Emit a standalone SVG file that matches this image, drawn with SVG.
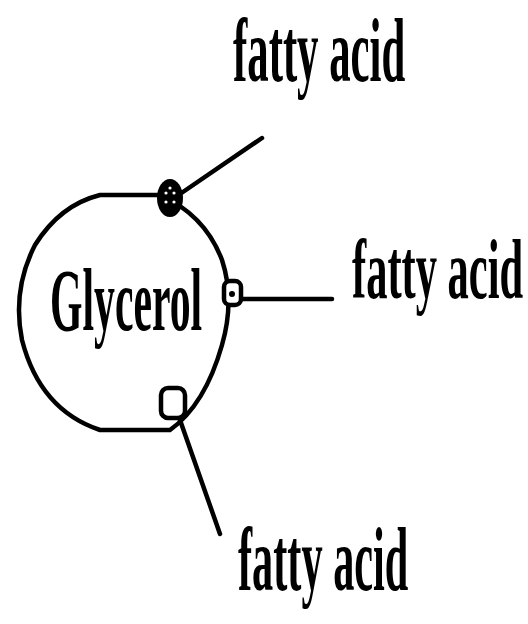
<svg xmlns="http://www.w3.org/2000/svg" width="528" height="624" viewBox="0 0 528 624">
<style>
.t{font-family:"Liberation Serif","Times New Roman",serif;font-weight:bold;fill:#000}
.ln{stroke:#000;stroke-width:4.5;fill:none;stroke-linecap:round}
</style>
<rect width="528" height="624" fill="#fff"/>
<g id="connectors">
<line class="ln" x1="180" y1="194" x2="262" y2="138"/>
<line class="ln" x1="240" y1="299" x2="332" y2="299"/>
<line class="ln" x1="180" y1="420" x2="220" y2="534"/>
</g>
<g id="glycerol">
<path class="ln" d="M100 195 L160 195 Q205 215 222 260 Q235 300 222 345 Q205 405 170 430 L100 430 Q40 410 22 340 Q12 290 35 245 Q60 205 100 195 Z"/>
<text class="t" transform="translate(50 330) scale(0.474 1)" font-size="88">Glycerol</text>
</g>
<g id="junction-top">
<ellipse cx="170" cy="198" rx="13" ry="19" fill="#000"/>
<circle cx="166" cy="193" r="1.6" fill="#fff"/>
<circle cx="174" cy="193" r="1.6" fill="#fff"/>
<circle cx="166" cy="202" r="1.6" fill="#fff"/>
<circle cx="174" cy="202" r="1.6" fill="#fff"/>
<circle cx="170" cy="188" r="1.6" fill="#fff"/>
</g>
<g id="junction-middle">
<rect x="224" y="281" width="17" height="24" rx="6" fill="#fff" stroke="#000" stroke-width="4.5"/>
<circle cx="232" cy="294" r="3" fill="#000"/>
</g>
<g id="junction-bottom">
<rect x="161" y="388" width="24" height="30" rx="7" fill="#fff" stroke="#000" stroke-width="4.5"/>
</g>
<g id="fatty-acid-top">
<text class="t" transform="translate(233 81) scale(0.465 1)" font-size="92">fatty acid</text>
</g>
<g id="fatty-acid-middle">
<text class="t" transform="translate(352 298) scale(0.5 1)" font-size="85">fatty acid</text>
</g>
<g id="fatty-acid-bottom">
<text class="t" transform="translate(238 590) scale(0.46 1)" font-size="92">fatty acid</text>
</g>
</svg>
